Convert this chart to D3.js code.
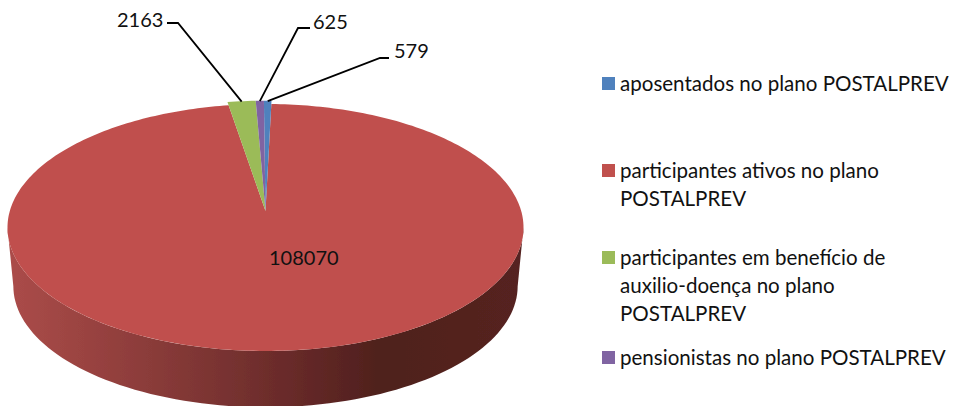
<!DOCTYPE html>
<html>
<head>
<meta charset="utf-8">
<script src="https://cdn.jsdelivr.net/npm/d3@7"></script>
<style>
  html, body { margin: 0; padding: 0; background: #fff; }
  svg { display: block; }
  text { font-family: Lato, "Open Sans", sans-serif; fill: #111; }
</style>
</head>
<body>
<div id="chart"></div>
<script>
// values, in legend order
const categories = ['aposentados', 'ativos', 'auxilio', 'pensionistas'];
const values = [579, 108070, 2163, 625];
const colors = ['#4f81bd', '#c0504d', '#9bbb59', '#8064a2'];
const legendLines = [
  ['aposentados no plano POSTALPREV'],
  ['participantes ativos no plano', 'POSTALPREV'],
  ['participantes em benefício de', 'auxilio-doença no plano', 'POSTALPREV'],
  ['pensionistas no plano POSTALPREV']
];

const width = 953;
const height = 406;
const labelSize = 20;
const legendSize = 20.55;

// label layout: text position and leader elbow, per category
const labelLayout = {
  aposentados:  { x: 394, y: 58, elbow: [[389, 58], [380, 58]] },
  ativos:       { x: 269, y: 265 },
  auxilio:      { x: 117, y: 27, elbow: [[167, 23], [178, 23]] },
  pensionistas: { x: 313, y: 29, elbow: [[310, 28], [298, 28]] }
};
const legendTop = [91, 178, 265, 365];

const svg = d3.select('#chart').append('svg')
  .attr('width', width)
  .attr('height', height)
  .attr('viewBox', `0 0 ${width} ${height}`);

// slightly soft, the reference is a scaled up picture
const defs = svg.append('defs');
defs.append('filter').attr('id', 'soft')
  .append('feGaussianBlur').attr('stdDeviation', 0.5);

const wallGrad = defs.append('linearGradient')
  .attr('id', 'wall')
  .attr('gradientUnits', 'userSpaceOnUse')
  .attr('x1', 8).attr('x2', 523).attr('y1', 0).attr('y2', 0);
[[0, '#ab4c49'], [0.15, '#9a4341'], [0.35, '#813735'], [0.55, '#682a29'],
 [0.72, '#4f201d'], [1, '#552220']].forEach(s => {
  wallGrad.append('stop').attr('offset', s[0]).attr('stop-color', s[1]);
});

// perspective: z = 1 is the far rim, z = -1 the near rim
const persp = 0.1335;
function project(r, a, plane) {
  const x = r * Math.sin(a);
  const z = r * Math.cos(a);
  const s = plane.scale / (1 + persp * z);
  return [plane.cx + plane.rx * x * s, plane.cy - plane.ry * z * s];
}
const topPlane = { cx: 265.5, cy: 211, rx: 255.7, ry: 121.3, scale: 1 };
const basePlane = { cx: 265.5, cy: 270, rx: 255, ry: 121.3, scale: 0.98 };

const line = d3.line();

// side wall, near half of the rim between the two widest points
const widest = Math.acos(-persp);
const nearAngles = d3.range(91).map(i => widest + (2 * Math.PI - 2 * widest) * i / 90);
const wallPts = nearAngles.map(a => project(1, a, topPlane))
  .concat(nearAngles.slice().reverse().map(a => project(1, a, basePlane)));
svg.append('path')
  .attr('d', line(wallPts) + 'Z')
  .attr('fill', 'url(#wall)')
  .attr('filter', 'url(#soft)');

// slices, clockwise from just left of 12 o'clock
const startAngle = -0.39 * Math.PI / 180;
const pie = d3.pie().sort(null)
  .startAngle(startAngle)
  .endAngle(startAngle + 2 * Math.PI);
const arcs = pie(values);

function slicePath(d, r) {
  const n = Math.max(2, Math.ceil((d.endAngle - d.startAngle) / 0.02));
  const rim = d3.range(n + 1)
    .map(i => project(r, d.startAngle + (d.endAngle - d.startAngle) * i / n, topPlane));
  return line([[topPlane.cx, topPlane.cy]].concat(rim)) + 'Z';
}

const bigIndex = d3.greatestIndex(values);
const order = d3.range(values.length).sort((a, b) => (b === bigIndex) - (a === bigIndex));

svg.append('g').attr('filter', 'url(#soft)')
  .selectAll('path')
  .data(order)
  .enter().append('path')
    .attr('d', i => slicePath(arcs[i], i === bigIndex ? 1 : 1.035))
    .attr('fill', i => colors[i]);

// leader lines and value labels
const labels = svg.append('g');
arcs.forEach((d, i) => {
  const pos = labelLayout[categories[i]];
  if (pos.elbow) {
    const mid = (d.startAngle + d.endAngle) / 2;
    const anchor = project(1.03, mid, topPlane);
    labels.append('path')
      .attr('d', line(pos.elbow.concat([anchor])))
      .attr('fill', 'none')
      .attr('stroke', '#000')
      .attr('stroke-width', 1.8);
  }
  labels.append('text')
    .attr('x', pos.x)
    .attr('y', pos.y)
    .attr('font-size', labelSize)
    .text(d3.format('d')(values[i]));
});

// legend
const legend = svg.append('g');
legendLines.forEach((lines, i) => {
  legend.append('rect')
    .attr('x', 602)
    .attr('y', legendTop[i] - 14)
    .attr('width', 13)
    .attr('height', 13)
    .attr('fill', colors[i]);
  lines.forEach((t, j) => {
    legend.append('text')
      .attr('x', 620)
      .attr('y', legendTop[i] + j * 28)
      .attr('font-size', legendSize)
      .text(t);
  });
});
</script>
</body>
</html>
